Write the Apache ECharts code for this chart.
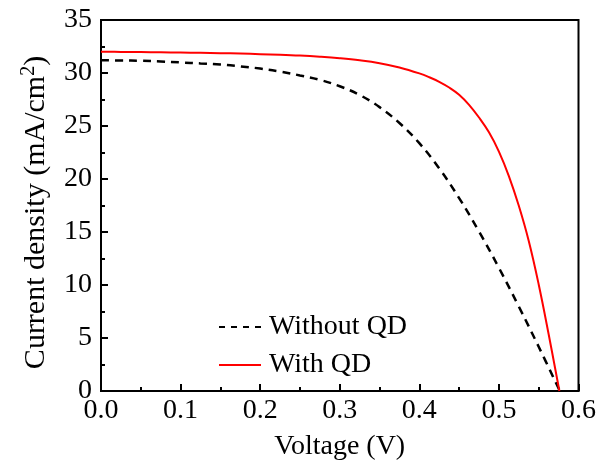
<!DOCTYPE html>
<html>
<head>
<meta charset="utf-8">
<script src="https://cdn.jsdelivr.net/npm/echarts@6/dist/echarts.min.js"></script>
<style>html,body{margin:0;padding:0;background:#fff}#c{width:599px;height:468px}</style>
</head>
<body>
<div id="c"></div>
<script>
var seriesNames = ['Without QD', 'With QD'];
var withoutV = [0, 0.025, 0.05, 0.075, 0.1, 0.125, 0.15, 0.175, 0.2, 0.225, 0.25, 0.275, 0.3, 0.325, 0.35, 0.375, 0.4, 0.425, 0.45, 0.475, 0.5, 0.525, 0.55, 0.5765];
var withoutJ = [31.2, 31.18, 31.15, 31.09, 31.0, 30.9, 30.8, 30.63, 30.42, 30.14, 29.77, 29.35, 28.75, 27.93, 26.78, 25.28, 23.38, 21.0, 18.2, 15.05, 11.62, 7.97, 4.17, 0];
var withV = [0, 0.025, 0.05, 0.075, 0.1, 0.125, 0.15, 0.175, 0.2, 0.225, 0.25, 0.275, 0.3, 0.325, 0.35, 0.375, 0.4, 0.4125, 0.425, 0.4375, 0.45, 0.4625, 0.475, 0.4875, 0.5, 0.5125, 0.525, 0.5375, 0.55, 0.5625, 0.576];
var withJ = [32.0, 31.99, 31.97, 31.95, 31.93, 31.9, 31.87, 31.83, 31.78, 31.72, 31.64, 31.53, 31.39, 31.2, 30.93, 30.52, 29.96, 29.6, 29.17, 28.63, 27.95, 27.0, 25.8, 24.4, 22.59, 20.28, 17.47, 14.15, 10.05, 5.35, 0];
var xTicks = [0, 0.1, 0.2, 0.3, 0.4, 0.5, 0.6];
var yTicks = [0, 5, 10, 15, 20, 25, 30, 35];

function pairs(xs, ys) { return xs.map(function (x, i) { return [x, ys[i]]; }); }

var font = 'Liberation Serif';
var chart = echarts.init(document.getElementById('c'), null, {renderer: 'canvas'});
chart.setOption({
  animation: false,
  backgroundColor: '#fff',
  grid: {left: 101, right: 17, top: 20, bottom: 77, show: true, borderColor: '#000', borderWidth: 2, backgroundColor: 'transparent'},
  legend: {
    orient: 'vertical', left: 213, top: 308, itemWidth: 42, itemHeight: 14, itemGap: 10,
    textStyle: {fontFamily: font, fontSize: 28, color: '#000', lineHeight: 28, padding: [0, 0, 0, 3]},
    data: [
      {name: seriesNames[0], lineStyle: {type: [6, 6], width: 2, color: '#000'}, itemStyle: {opacity: 0}},
      {name: seriesNames[1], lineStyle: {width: 2, color: '#ff0000'}, itemStyle: {opacity: 0}}
    ]
  },
  xAxis: {
    type: 'value', min: xTicks[0], max: xTicks[xTicks.length - 1], interval: 0.1,
    name: 'Voltage (V)', nameLocation: 'middle', nameGap: 42,
    nameTextStyle: {fontFamily: font, fontSize: 28, color: '#000'},
    axisLine: {show: true, lineStyle: {color: '#000', width: 2}},
    axisTick: {show: true, inside: true, length: 7, lineStyle: {color: '#000', width: 2}},
    minorTick: {show: true, splitNumber: 2, length: 4, lineStyle: {color: '#000', width: 2}},
    splitLine: {show: false},
    axisLabel: {fontFamily: font, fontSize: 28, color: '#000', margin: 6, formatter: function (v) { return v.toFixed(1); }}
  },
  yAxis: {
    type: 'value', min: yTicks[0], max: yTicks[yTicks.length - 1], interval: 5,
    name: '{a|Current density (mA/cm}{s|2}{a|)}', nameLocation: 'middle', nameGap: 50, nameRotate: 90,
    nameTextStyle: {fontFamily: font, fontSize: 30, color: '#000', padding: [0, 14, 0, 0],
      rich: {a: {fontFamily: font, fontSize: 30, color: '#000', lineHeight: 32, verticalAlign: 'bottom'},
             s: {fontFamily: font, fontSize: 20, color: '#000', lineHeight: 32, verticalAlign: 'top', padding: [0, 0, 10, 0]}}},
    axisLine: {show: true, lineStyle: {color: '#000', width: 2}},
    axisTick: {show: true, inside: true, length: 7, lineStyle: {color: '#000', width: 2}},
    minorTick: {show: true, splitNumber: 2, length: 4, lineStyle: {color: '#000', width: 2}},
    splitLine: {show: false},
    axisLabel: {fontFamily: font, fontSize: 28, color: '#000', margin: 9}
  },
  series: [
    {name: seriesNames[0], type: 'line', data: pairs(withoutV, withoutJ), smooth: 0.4, symbol: 'none',
     lineStyle: {color: '#000', width: 2.5, type: [8, 6]}, itemStyle: {color: '#000'}, z: 3},
    {name: seriesNames[1], type: 'line', data: pairs(withV, withJ), smooth: 0.4, symbol: 'none',
     lineStyle: {color: '#ff0000', width: 2}, itemStyle: {color: '#ff0000'}, z: 4}
  ]
});
</script>
</body>
</html>
